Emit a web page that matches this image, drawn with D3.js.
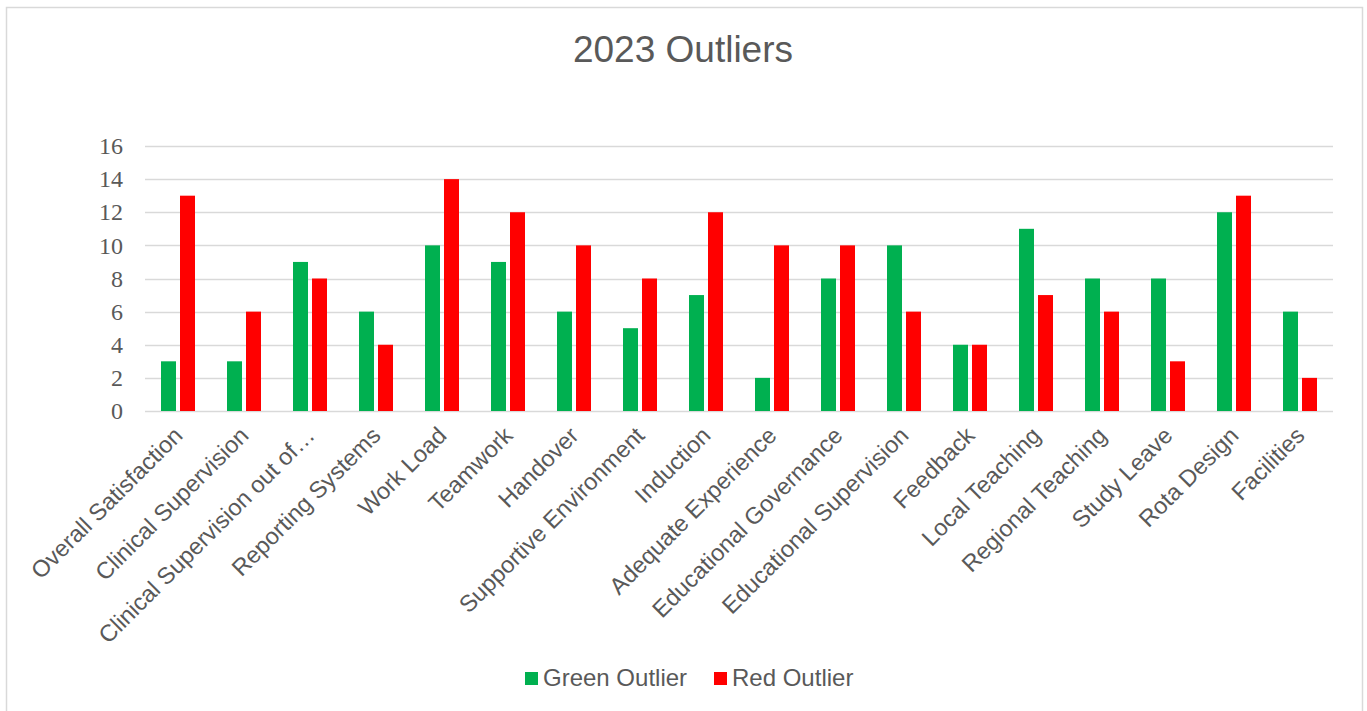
<!DOCTYPE html>
<html><head><meta charset="utf-8">
<script src="https://cdn.jsdelivr.net/npm/d3@7"></script>
<style>body{margin:0;background:#fff}svg{display:block}</style>
</head><body><svg id="c" width="1367" height="711"></svg>
<script>
const categories = ["Overall Satisfaction","Clinical Supervision","Clinical Supervision out of…","Reporting Systems","Work Load","Teamwork","Handover","Supportive Environment","Induction","Adequate Experience","Educational Governance","Educational Supervision","Feedback","Local Teaching","Regional Teaching","Study Leave","Rota Design","Facilities"];
const greenOutlier = [3,3,9,6,10,9,6,5,7,2,8,10,4,11,8,8,12,6];
const redOutlier = [13,6,8,4,14,12,10,8,12,10,10,6,4,7,6,3,13,2];
const seriesNames = ["Green Outlier","Red Outlier"];
const seriesColors = ["#00B050","#FF0000"];
const yTicks = [0,2,4,6,8,10,12,14,16];

const svg = d3.select("#c");
svg.append("rect").attr("x",6.5).attr("y",7.5).attr("width",1356).attr("height",710)
  .attr("fill","#fff").attr("stroke","#d9d9d9").attr("stroke-width",1.5);

const L=145,R=1333,T=146,B=411;
const x = d3.scaleBand().domain(categories).range([L,R]);
const y = d3.scaleLinear().domain([0,16]).range([B,T]);
const barW = 15, gap = 4;

svg.append("text").attr("x",683).attr("y",62).attr("text-anchor","middle")
  .attr("font-family","Liberation Sans, Arial").attr("font-size",37).attr("fill","#595959").text("2023 Outliers");

const g = svg.append("g");
g.selectAll("line.grid").data(yTicks).enter().append("line")
  .attr("x1",L).attr("x2",R).attr("y1",d=>Math.round(y(d))+0.5).attr("y2",d=>Math.round(y(d))+0.5)
  .attr("stroke","#d9d9d9").attr("stroke-width",1.5);

const yAxis = d3.axisLeft(y).tickValues(yTicks).tickSize(0).tickPadding(22);
const ya = svg.append("g").attr("transform",`translate(${L},0)`).call(yAxis);
ya.select(".domain").remove();
ya.selectAll("text").attr("font-family","Liberation Serif, Cambria, serif").attr("font-size",24).attr("fill","#595959");

const data = [greenOutlier, redOutlier];
data.forEach((vals,si)=>{
  svg.append("g").selectAll("rect").data(vals).enter().append("rect")
    .attr("x",(d,i)=>x(categories[i]) + x.bandwidth()/2 + (si===0 ? -gap/2-barW : gap/2))
    .attr("width",barW)
    .attr("y",d=>y(d)).attr("height",d=>B-y(d))
    .attr("fill",seriesColors[si]);
});

const xAxis = d3.axisBottom(x).tickSize(0).tickPadding(0);
const xa = svg.append("g").attr("transform",`translate(0,${B})`).call(xAxis);
xa.select(".domain").remove();
xa.selectAll("text")
  .attr("font-family","Liberation Sans, Arial").attr("font-size",23.5).attr("fill","#595959")
  .attr("text-anchor","end").attr("dy",0).attr("y",0)
  .attr("transform","translate(6,26) rotate(-45)");

const legend = svg.append("g");
const lx = [525,714];
seriesNames.forEach((n,i)=>{
  legend.append("rect").attr("x",lx[i]).attr("y",672).attr("width",13).attr("height",13).attr("fill",seriesColors[i]);
  legend.append("text").attr("x",lx[i]+18).attr("y",686).attr("font-family","Liberation Sans, Arial")
    .attr("font-size",24).attr("fill","#595959").text(n);
});
</script></body></html>
